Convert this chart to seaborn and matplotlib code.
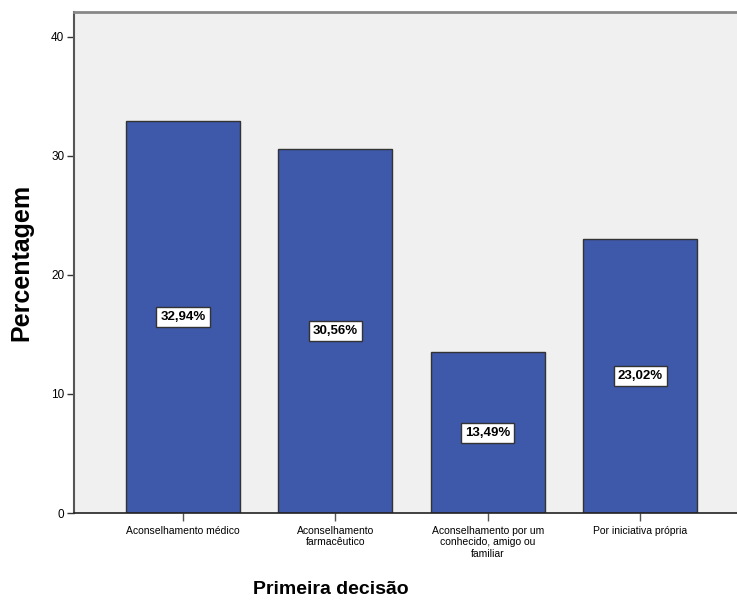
import matplotlib
matplotlib.use("Agg")
import matplotlib.pyplot as plt
import seaborn as sns

categories = ["Aconselhamento médico", "Aconselhamento\nfarmacêutico",
              "Aconselhamento por um\nconhecido, amigo ou\nfamiliar", "Por iniciativa própria"]
values = [32.94, 30.56, 13.49, 23.02]
value_labels = ["32,94%", "30,56%", "13,49%", "23,02%"]
yticks = [0, 10, 20, 30, 40]

sns.set_style("white")
plt.rcParams['font.family'] = ['Liberation Sans', 'DejaVu Sans']
plt.rcParams['text.color'] = 'black'
plt.rcParams['axes.labelcolor'] = 'black'
plt.rcParams['xtick.labelcolor'] = 'black'
plt.rcParams['ytick.labelcolor'] = 'black'

fig = plt.figure(figsize=(7.37, 6.01), dpi=100)
ax = fig.add_axes([74/737, 88/601, 663/737, 501/601])
ax.set_facecolor("#F0F0F0")

sns.barplot(x=categories, y=values, color="#3E58AA", width=0.75,
            edgecolor="#333333", linewidth=1.0, saturation=1, ax=ax)

ax.bar_label(ax.containers[0], labels=value_labels, label_type='center',
             fontsize=9.5, fontweight='bold', color='black',
             bbox=dict(boxstyle='square,pad=0.3', fc='white', ec='#333333', lw=1))

ax.set_ylim(0, 42.1)
ax.set_xlim(-0.715, 3.636)
ax.set_yticks(yticks)
ax.set_yticklabels([str(t) for t in yticks], fontsize=8.5)
ax.tick_params(axis='y', length=5, width=1, color='#333333', pad=2, left=True)
ax.tick_params(axis='x', length=6, width=1, color='#555555', pad=3, labelsize=7.5, bottom=True)

ax.spines['right'].set_visible(False)
ax.spines['left'].set_color('#555555')
ax.spines['left'].set_linewidth(1.5)
ax.spines['top'].set_color('#888888')
ax.spines['top'].set_linewidth(2)
ax.spines['bottom'].set_color('#222222')
ax.spines['bottom'].set_linewidth(1.2)

ax.set_ylabel("Percentagem", fontsize=18, fontweight='bold', color='black')
ax.yaxis.set_label_coords(-0.062, 0.5)
ax.set_xlabel("Primeira decisão", fontsize=14, fontweight='bold', color='black')
ax.xaxis.set_label_coords(0.388, -0.135)

fig.savefig("out.png", dpi=100)
